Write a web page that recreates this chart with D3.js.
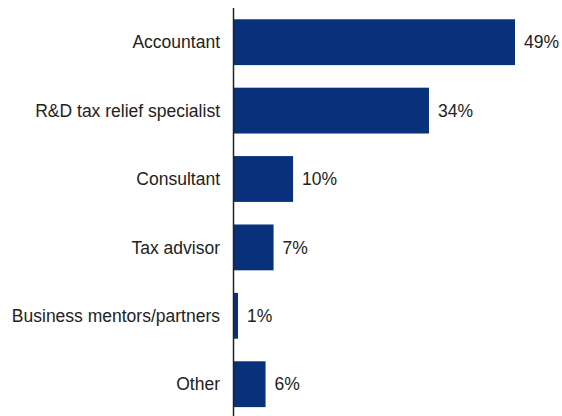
<!DOCTYPE html>
<html>
<head>
<meta charset="utf-8">
<script src="https://cdn.jsdelivr.net/npm/d3@7"></script>
<style>
  body { margin: 0; background: #fff; }
  text { font-family: Arial, "Liberation Sans", sans-serif; fill: #222; }
</style>
</head>
<body>
<div id="chart"></div>
<script>
var
  width = 562,
  height = 416;

var categories = ["Accountant", "R&D tax relief specialist", "Consultant", "Tax advisor", "Business mentors/partners", "Other"];
var shares = [49, 34, 10.3, 6.9, 0.7, 5.5];
var shareLabels = ["49%", "34%", "10%", "7%", "1%", "6%"];

var svg = d3.select("#chart")
  .append("svg")
  .attr("width", width)
  .attr("height", height);

var x0 = 234;

var x = d3.scaleLinear()
  .domain([0, 49])
  .range([x0, 515]);

var y = d3.scaleBand()
  .domain(categories)
  .range([8, 418.4])
  .paddingInner(0.33)
  .paddingOuter(0.165);

svg.selectAll(".bar")
  .data(categories)
  .enter().append("rect")
  .attr("class", "bar")
  .attr("x", x(0))
  .attr("y", function(d) { return y(d); })
  .attr("width", function(d, i) { return x(shares[i]) - x(0); })
  .attr("height", y.bandwidth())
  .attr("fill", "#08307b");

// category labels
svg.selectAll(".cat")
  .data(categories)
  .enter().append("text")
  .attr("class", "cat")
  .attr("x", 220)
  .attr("y", function(d) { return y(d) + y.bandwidth() / 2; })
  .attr("dy", "0.35em")
  .attr("text-anchor", "end")
  .style("font-size", "17.5px")
  .text(function(d) { return d; });

// value labels
svg.selectAll(".val")
  .data(categories)
  .enter().append("text")
  .attr("class", "val")
  .attr("x", function(d, i) { return x(shares[i]) + 9; })
  .attr("y", function(d) { return y(d) + y.bandwidth() / 2; })
  .attr("dy", "0.35em")
  .style("font-size", "17.5px")
  .text(function(d, i) { return shareLabels[i]; });

// vertical axis line
svg.append("line")
  .attr("x1", x0 - 0.5)
  .attr("x2", x0 - 0.5)
  .attr("y1", 8)
  .attr("y2", height)
  .attr("stroke", "#222")
  .attr("stroke-width", 1.5);
</script>
</body>
</html>
